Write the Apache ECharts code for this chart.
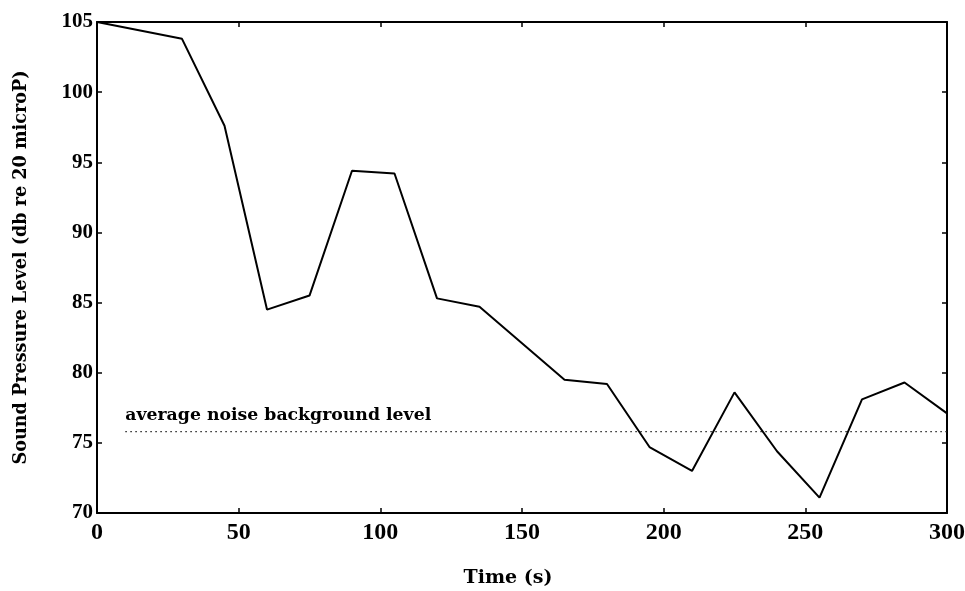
<!DOCTYPE html>
<html>
<head>
<meta charset="utf-8">
<script src="https://cdn.jsdelivr.net/npm/echarts@6/dist/echarts.min.js"></script>
<style>html,body{margin:0;padding:0;background:#fff;}#c{width:965px;height:591px;}</style>
</head>
<body>
<div id="c"></div>
<script>
var timeValues = [0, 30, 45, 60, 75, 90, 105, 120, 135, 150, 165, 180, 195, 210, 225, 240, 255, 270, 285, 300];
var splValues = [105, 103.8, 97.6, 84.5, 85.5, 94.4, 94.2, 85.3, 84.7, 82.1, 79.5, 79.2, 74.7, 73.0, 78.6, 74.4, 71.1, 78.1, 79.3, 77.1];
var noiseTimes = [10, 300];
var noiseLevel = 75.8;
var noiseLabel = 'average noise background level';
var xTitle = 'Time (s)';
var yTitle = 'Sound Pressure Level (db re 20 microP)';

var font = 'Liberation Serif';
var wideFont = 'DejaVu Serif';
var chart = echarts.init(document.getElementById('c'), null, {renderer: 'canvas'});
var axisCommon = {
  axisLine: {show: true, onZero: false, lineStyle: {color: '#000', width: 2}},
  axisTick: {show: true, inside: true, length: 5, lineStyle: {color: '#000', width: 1.5}},
  splitLine: {show: false}
};
var mainData = timeValues.map(function (t, i) { return [t, splValues[i]]; });
var noiseData = noiseTimes.map(function (t, i) {
  var d = {value: [t, noiseLevel]};
  if (i === 0) {
    d.label = {show: true, formatter: noiseLabel, position: [0, -25], align: 'left',
      fontFamily: wideFont, fontWeight: 'bold', fontSize: 17.3, color: '#000'};
  }
  return d;
});
chart.setOption({
  animation: false,
  backgroundColor: '#fff',
  grid: {left: 97, right: 18, top: 22, bottom: 78, containLabel: false, outerBoundsMode: 'none'},
  xAxis: [
    Object.assign({type: 'value', min: 0, max: 300, interval: 50, position: 'bottom',
      name: xTitle, nameLocation: 'middle', nameGap: 56,
      nameTextStyle: {fontFamily: wideFont, fontWeight: 'bold', fontSize: 19, color: '#000', padding: [0, 28, 0, 0]},
      axisLabel: {fontFamily: font, fontWeight: 'bold', fontSize: 24, color: '#000', margin: 8}}, axisCommon),
    Object.assign({type: 'value', min: 0, max: 300, interval: 50, position: 'top',
      axisLabel: {show: false}}, axisCommon)
  ],
  yAxis: [
    Object.assign({type: 'value', min: 70, max: 105, interval: 5, position: 'left',
      name: yTitle, nameLocation: 'middle', nameGap: 67, nameRotate: 90,
      nameTextStyle: {fontFamily: wideFont, fontWeight: 'bold', fontSize: 17.6, color: '#000'},
      axisLabel: {fontFamily: font, fontWeight: 'bold', fontSize: 21, color: '#000', margin: 4}}, axisCommon),
    Object.assign({type: 'value', min: 70, max: 105, interval: 5, position: 'right',
      axisLabel: {show: false}}, axisCommon)
  ],
  series: [
    {type: 'line', data: mainData, symbol: 'none', lineStyle: {color: '#000', width: 2}, z: 3},
    {type: 'line', data: noiseData, symbol: 'circle', symbolSize: 0.1, showSymbol: true,
      lineStyle: {color: '#222', width: 1.2, type: [1.5, 3.5]}, itemStyle: {color: 'rgba(0,0,0,0)'}, z: 2}
  ]
});
</script>
</body>
</html>
